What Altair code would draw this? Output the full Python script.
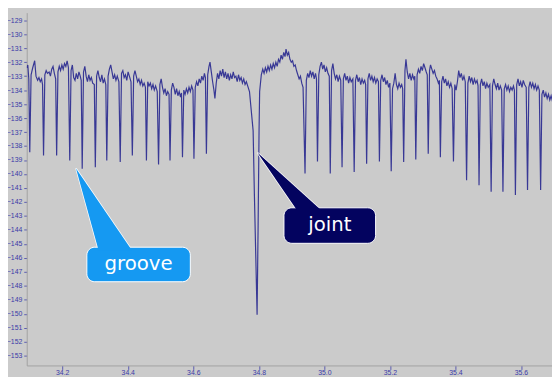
import altair as alt
import pandas as pd

# ---- signal data (position, level) ----
groove_bottoms = [
    (34.101, -138.45), (34.143, -138.68), (34.183, -138.68), (34.223, -139.03),
    (34.261, -139.62), (34.301, -139.51), (34.336, -139.03), (34.377, -139.15),
    (34.414, -138.68), (34.457, -139.03), (34.494, -139.32), (34.529, -139.03),
    (34.567, -138.80), (34.602, -138.91), (34.640, -138.56),
    (34.941, -139.97), (34.979, -139.10), (35.018, -139.97), (35.054, -139.51),
    (35.091, -139.86), (35.129, -139.27), (35.168, -139.10), (35.204, -139.80),
    (35.242, -139.14), (35.279, -138.96), (35.317, -138.56), (35.354, -138.80),
    (35.394, -139.10), (35.434, -140.44), (35.472, -140.80), (35.509, -141.27),
    (35.545, -141.27), (35.583, -141.50), (35.620, -141.15), (35.660, -141.15),
]

joint_profile = [
    (34.7715, -134.1), (34.7826, -136.9), (34.7866, -141.6), (34.7947, -150.08),
    (34.7977, -144.0), (34.8007, -136.9), (34.8025, -134.1), (34.8076, -132.9),
]

surface_west = [
    (34.092, -132.4), (34.095, -132.2), (34.098, -133.2),
    (34.105, -132.9), (34.110, -132.4), (34.116, -131.9), (34.120, -133.0), (34.125, -133.3),
    (34.129, -133.1), (34.133, -133.4), (34.137, -133.2), (34.140, -133.6),
    (34.147, -132.9), (34.151, -132.6), (34.155, -132.8), (34.160, -132.7), (34.164, -133.0),
    (34.168, -132.5), (34.172, -132.3), (34.176, -132.8), (34.180, -133.2),
    (34.187, -132.7), (34.191, -132.3), (34.195, -132.6), (34.199, -132.2), (34.203, -132.5),
    (34.207, -132.1), (34.211, -132.3), (34.215, -131.9), (34.219, -132.4),
    (34.227, -132.6), (34.231, -132.2), (34.235, -133.1), (34.239, -133.3), (34.243, -132.8),
    (34.247, -133.2), (34.251, -132.7), (34.255, -133.0), (34.258, -133.3),
    (34.265, -132.7), (34.269, -132.3), (34.273, -133.0), (34.277, -133.4), (34.281, -132.9),
    (34.285, -133.3), (34.289, -133.1), (34.293, -133.5), (34.298, -133.6),
    (34.305, -133.0), (34.309, -132.6), (34.313, -133.1), (34.317, -133.4), (34.321, -132.9),
    (34.325, -133.5), (34.329, -133.2), (34.333, -133.6),
    (34.340, -133.0), (34.344, -132.5), (34.348, -132.2), (34.352, -132.7), (34.356, -133.2),
    (34.360, -132.9), (34.364, -133.3), (34.368, -133.0), (34.373, -133.4),
    (34.381, -132.8), (34.385, -132.6), (34.389, -133.1), (34.393, -132.9), (34.397, -133.3),
    (34.401, -132.7), (34.405, -133.0), (34.410, -133.4),
    (34.418, -133.0), (34.422, -132.6), (34.426, -133.0), (34.430, -133.4), (34.434, -133.2),
    (34.438, -133.6), (34.442, -133.3), (34.446, -133.7), (34.450, -133.5), (34.454, -133.8),
    (34.461, -133.4), (34.465, -133.7), (34.469, -133.5), (34.473, -133.9), (34.477, -133.6),
    (34.481, -134.0), (34.485, -133.7), (34.490, -134.1),
    (34.498, -133.6), (34.502, -133.2), (34.506, -133.8), (34.510, -134.2), (34.514, -133.9),
    (34.518, -134.4), (34.522, -134.1), (34.526, -134.3),
    (34.533, -134.0), (34.537, -133.5), (34.541, -133.8), (34.545, -134.3), (34.549, -133.9),
    (34.553, -134.4), (34.557, -134.1), (34.561, -134.5), (34.564, -134.2),
    (34.571, -134.0), (34.575, -134.3), (34.579, -133.9), (34.583, -134.2), (34.587, -133.8),
    (34.591, -134.1), (34.595, -133.7), (34.599, -134.0),
    (34.606, -133.8), (34.610, -133.4), (34.614, -133.7), (34.618, -133.2), (34.622, -133.5),
    (34.626, -133.0), (34.630, -133.3), (34.634, -132.8), (34.637, -133.1),
    (34.644, -132.9), (34.648, -132.3), (34.651, -132.0), (34.655, -132.7), (34.659, -133.4),
    (34.663, -134.0), (34.666, -134.6), (34.670, -133.5), (34.674, -132.8), (34.678, -133.2),
    (34.682, -132.6), (34.686, -133.0), (34.690, -132.5), (34.694, -133.1), (34.698, -132.7),
    (34.702, -133.2), (34.706, -132.8), (34.710, -133.3), (34.714, -132.9), (34.718, -133.2),
    (34.722, -132.7), (34.726, -133.1), (34.730, -133.0), (34.734, -133.4), (34.738, -132.9),
    (34.742, -133.3), (34.746, -133.1), (34.750, -133.5), (34.754, -133.2), (34.758, -133.6),
    (34.762, -133.4), (34.766, -133.7),
]

surface_east = [
    (34.812, -132.5), (34.816, -132.8), (34.820, -132.4), (34.824, -132.7), (34.828, -132.3),
    (34.832, -132.6), (34.836, -132.2), (34.840, -132.5), (34.844, -132.1), (34.848, -132.4),
    (34.852, -132.0), (34.856, -132.3), (34.860, -131.8), (34.864, -132.0), (34.868, -131.5),
    (34.872, -131.8), (34.876, -131.3), (34.880, -131.6), (34.883, -131.07), (34.887, -131.5),
    (34.891, -131.3), (34.895, -131.8), (34.899, -132.0), (34.903, -131.9), (34.907, -132.3),
    (34.911, -132.2), (34.915, -132.6), (34.919, -132.9), (34.923, -133.2), (34.927, -133.0),
    (34.931, -133.5), (34.935, -133.8),
    (34.945, -133.3), (34.949, -132.8), (34.953, -133.1), (34.957, -132.6), (34.961, -133.0),
    (34.965, -132.7), (34.969, -133.2), (34.973, -132.8), (34.976, -133.2),
    (34.983, -132.9), (34.987, -132.3), (34.991, -132.0), (34.995, -132.5), (34.999, -132.2),
    (35.003, -132.7), (35.007, -132.4), (35.011, -132.8), (35.015, -133.0),
    (35.022, -132.6), (35.026, -132.1), (35.030, -132.8), (35.034, -133.2), (35.038, -132.9),
    (35.042, -133.4), (35.046, -133.0), (35.050, -133.3),
    (35.058, -133.2), (35.062, -132.8), (35.066, -133.3), (35.070, -133.0), (35.074, -133.5),
    (35.078, -133.1), (35.082, -133.4), (35.087, -133.2),
    (35.095, -133.3), (35.099, -132.9), (35.103, -133.4), (35.107, -133.1), (35.111, -133.6),
    (35.115, -133.2), (35.119, -133.5), (35.123, -133.3), (35.126, -133.6),
    (35.133, -133.2), (35.137, -132.8), (35.141, -133.3), (35.145, -133.0), (35.149, -133.4),
    (35.153, -133.1), (35.157, -133.5), (35.161, -133.2), (35.165, -133.4),
    (35.172, -133.3), (35.176, -132.9), (35.180, -133.4), (35.184, -133.1), (35.188, -133.6),
    (35.192, -133.3), (35.196, -133.8), (35.200, -133.5),
    (35.208, -133.9), (35.212, -133.5), (35.216, -132.8), (35.220, -133.6), (35.224, -133.9),
    (35.228, -133.5), (35.232, -133.8), (35.236, -133.6), (35.239, -133.9),
    (35.246, -132.6), (35.249, -131.8), (35.253, -132.7), (35.257, -133.2), (35.261, -132.8),
    (35.265, -133.3), (35.269, -132.9), (35.273, -133.2), (35.276, -133.0),
    (35.283, -132.9), (35.287, -132.5), (35.291, -132.8), (35.295, -132.3), (35.299, -132.6),
    (35.303, -132.1), (35.307, -132.4), (35.311, -132.7), (35.314, -132.9),
    (35.321, -132.6), (35.324, -132.2), (35.328, -132.5), (35.332, -132.8), (35.336, -132.6),
    (35.340, -133.0), (35.344, -133.2), (35.348, -133.5), (35.351, -133.3),
    (35.358, -133.4), (35.362, -133.0), (35.366, -133.5), (35.370, -133.2), (35.374, -133.7),
    (35.378, -133.4), (35.382, -133.8), (35.386, -133.5), (35.390, -133.9),
    (35.398, -133.6), (35.402, -134.0), (35.406, -133.4), (35.410, -132.6), (35.414, -133.1),
    (35.418, -132.8), (35.422, -133.3), (35.426, -133.0), (35.430, -133.4),
    (35.438, -133.5), (35.442, -133.0), (35.446, -133.4), (35.450, -133.1), (35.454, -133.6),
    (35.458, -133.2), (35.462, -133.5), (35.466, -133.3), (35.469, -133.7),
    (35.476, -133.6), (35.480, -133.2), (35.484, -133.7), (35.488, -133.4), (35.492, -133.9),
    (35.496, -133.5), (35.500, -133.8), (35.505, -133.6),
    (35.513, -133.7), (35.517, -133.2), (35.521, -133.6), (35.525, -133.9), (35.529, -133.5),
    (35.533, -134.0), (35.537, -133.7), (35.541, -134.0),
    (35.549, -133.9), (35.553, -133.6), (35.557, -134.0), (35.561, -133.7), (35.565, -134.1),
    (35.569, -133.8), (35.573, -134.0), (35.577, -133.7), (35.580, -134.0),
    (35.587, -133.6), (35.591, -133.2), (35.595, -133.7), (35.599, -133.4), (35.603, -133.8),
    (35.607, -133.3), (35.611, -133.6), (35.616, -133.8),
    (35.624, -133.8), (35.628, -133.4), (35.632, -133.8), (35.636, -133.5), (35.640, -133.9),
    (35.644, -133.6), (35.648, -134.0), (35.652, -133.7), (35.656, -134.0),
    (35.664, -134.3), (35.668, -134.0), (35.672, -134.5), (35.676, -134.2), (35.680, -134.6),
    (35.684, -134.3), (35.688, -134.7), (35.692, -134.4), (35.696, -134.8), (35.700, -134.5),
]

x_ticks = [34.2, 34.4, 34.6, 34.8, 35.0, 35.2, 35.4, 35.6]
y_ticks = [-129, -130, -131, -132, -133, -134, -135, -136, -137, -138, -139, -140,
           -141, -142, -143, -144, -145, -146, -147, -148, -149, -150, -151, -152, -153]

# ---- callouts: label, box (x1, x2, y1, y2), pointer tip, pointer base ----
callout_labels = ["groove", "joint"]
callout_fill = ["#1599f2", "#03035f"]
callout_box_x = [(34.2752, 34.5910), (34.8767, 35.1564)]
callout_box_y = [(-145.24, -147.71), (-142.42, -144.96)]
callout_text_at = [(34.433, -146.48), (35.0165, -143.69)]
callout_tip = [(34.2421, -139.60), (34.7955, -138.47)]
callout_base_x = [(34.3113, 34.4135), (34.9180, 34.9930)]
callout_base_y = [-145.5, -142.65]

# ---- build tables ----
pts = surface_west + joint_profile + surface_east + groove_bottoms
signal = pd.DataFrame(pts, columns=["pos", "level"]).sort_values("pos")

boxes = pd.DataFrame({
    "label": callout_labels,
    "fill": callout_fill,
    "x1": [b[0] for b in callout_box_x],
    "x2": [b[1] for b in callout_box_x],
    "y1": [b[0] for b in callout_box_y],
    "y2": [b[1] for b in callout_box_y],
    "tx": [t[0] for t in callout_text_at],
    "ty": [t[1] for t in callout_text_at],
})

tri_rows = []
for i, lab in enumerate(callout_labels):
    tri_rows.append({"label": lab, "py": callout_tip[i][1],
                     "px1": callout_tip[i][0], "px2": callout_tip[i][0]})
    tri_rows.append({"label": lab, "py": callout_base_y[i],
                     "px1": callout_base_x[i][0], "px2": callout_base_x[i][1]})
tris = pd.DataFrame(tri_rows)

x_scale = alt.Scale(domain=[34.0917, 35.6947], nice=False, zero=False)
y_scale = alt.Scale(domain=[-153.70, -128.457], nice=False, zero=False)
fill_scale = alt.Scale(domain=callout_labels, range=callout_fill)

x_axis = alt.Axis(values=x_ticks, format=".1f", title=None, grid=False,
                  labelFont="Liberation Sans", labelFontSize=7,
                  labelColor="#3a3aa8", tickColor="#5a5ab0", tickSize=4,
                  labelPadding=-1, domainColor="#a2a2a2", labelFlush=False)
y_axis = alt.Axis(values=y_ticks, format="d", title=None, grid=False,
                  labelFont="Liberation Sans", labelFontSize=7,
                  labelColor="#3a3aa8", tickColor="#5a5ab0", tickSize=3,
                  labelPadding=2, domainColor="#a2a2a2", labelFlush=False)

line = alt.Chart(signal).mark_line(
    color="#1f1f8c", strokeWidth=1.2, opacity=0.85, clip=True
).encode(
    x=alt.X("pos:Q", scale=x_scale, axis=x_axis),
    y=alt.Y("level:Q", scale=y_scale, axis=y_axis),
)

tri_outline = alt.Chart(tris).mark_area(
    orient="horizontal", stroke="white", strokeWidth=1.5
).encode(
    y=alt.Y("py:Q", scale=y_scale, axis=y_axis),
    x=alt.X("px1:Q", scale=x_scale, axis=x_axis),
    x2="px2:Q",
    fill=alt.Fill("label:N", scale=fill_scale, legend=None),
    detail="label:N",
)

box = alt.Chart(boxes).mark_rect(
    cornerRadius=8, stroke="white", strokeWidth=1
).encode(
    x=alt.X("x1:Q", scale=x_scale, axis=x_axis),
    x2="x2:Q",
    y=alt.Y("y1:Q", scale=y_scale, axis=y_axis),
    y2="y2:Q",
    fill=alt.Fill("label:N", scale=fill_scale, legend=None),
)

tri_fill = alt.Chart(tris).mark_area(orient="horizontal").encode(
    y=alt.Y("py:Q", scale=y_scale, axis=y_axis),
    x=alt.X("px1:Q", scale=x_scale, axis=x_axis),
    x2="px2:Q",
    fill=alt.Fill("label:N", scale=fill_scale, legend=None),
    detail="label:N",
)

text = alt.Chart(boxes).mark_text(
    font="DejaVu Sans", fontSize=20, color="white", align="center", baseline="middle"
).encode(
    x=alt.X("tx:Q", scale=x_scale, axis=x_axis),
    y=alt.Y("ty:Q", scale=y_scale, axis=y_axis),
    text="label:N",
)

chart = alt.layer(line, tri_outline, box, tri_fill, text).properties(
    width=533, height=358,
    autosize=alt.AutoSizeParams(type="none"),
    padding={"left": 19, "top": 2, "right": 0, "bottom": 9},
    background="#cbcbcb",
).configure_view(stroke=None)

chart.save("out.html", embed_options={"renderer": "svg", "actions": False})
